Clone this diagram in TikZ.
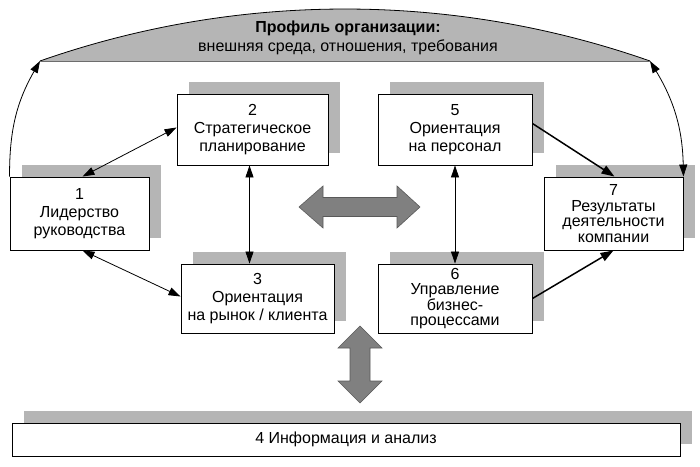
\documentclass[tikz,border=0pt]{standalone}
\usepackage{fontspec}
\setmainfont{Liberation Sans}
\usetikzlibrary{arrows.meta,shadows}
\definecolor{boxgray}{gray}{0.71}
\definecolor{arrowgray}{gray}{0.5}
\tikzstyle{block}=[rectangle, draw, line width=0.9pt, fill=white, inner sep=0pt, align=center, font=\fontsize{16}{18}\selectfont, general shadow={fill=boxgray, shadow xshift=12pt, shadow yshift=12pt}]
\tikzstyle{tight}=[font=\fontsize{16}{15.5}\selectfont]
\tikzstyle{link}=[line width=0.8pt, {Triangle[length=12pt,width=8pt]}-{Triangle[length=12pt,width=8pt]}]
\tikzstyle{flow}=[line width=1.5pt, -{Triangle[length=13pt,width=9pt]}]
\tikzstyle{fat}=[fill=arrowgray, draw=black!65, line width=0.6pt]
\newcommand{\block}{\node[block]}

\begin{document}
\begin{tikzpicture}[x=1pt,y=1pt]
\useasboundingbox (0,0) rectangle (700,466);
% profile of the organisation
\coordinate (arcL) at (40,405);
\coordinate (arcR) at (650,405);
\fill[boxgray] (arcL) arc[start angle=109.35, end angle=70.65, radius=920.5] -- cycle;
\draw[line width=0.8pt] (arcL) arc[start angle=109.35, end angle=70.65, radius=920.5];
\draw[boxgray!60!black, line width=0.6pt] (arcL) -- (arcR);
\node[align=center, font=\fontsize{16}{19}\selectfont] (prof) at (348,428) {\textbf{Профиль организации:}\\внешняя среда, отношения, требования};
% blocks
\block (b1) at (79.5,252.5)[minimum width=139pt, minimum height=73pt]{1\\Лидерство\\руководства};
\block (b2) at (252.5,336.5)[minimum width=151pt, minimum height=71pt]{2\\Стратегическое\\планирование};
\block (b3) at (257.5,167.5)[minimum width=153pt, minimum height=69pt]{3\\Ориентация\\на рынок / клиента};
\block (b5) at (455,336.5)[minimum width=154pt, minimum height=71pt]{5\\Ориентация\\на персонал};
\block (b6) at (455,167.5)[minimum width=154pt, minimum height=69pt, tight]{6\\Управление\\бизнес-\\процессами};
\block (b7) at (613.5,252.5)[minimum width=139pt, minimum height=73pt, tight]{7\\Результаты\\деятельности\\компании};
\block (b4) at (346,26.5)[minimum width=668pt, minimum height=33pt]{4 Информация и анализ};
% connectors
\draw[line width=0.8pt, -{Triangle[length=12pt,width=8pt]}] (b1.north west) to[bend left=15] (arcL);
\draw[link] (arcR) to[bend left=15] (b7.north east);
\draw[link] ([xshift=3pt]b1.north) -- ([yshift=2pt]b2.west);
\draw[link] ([xshift=3pt]b1.south) -- ([yshift=2pt]b3.west);
\draw[link] ([xshift=-3pt]b2.south) -- ([xshift=-3pt]b2.south |- b3.north);
\draw[link] (b5.south) -- (b6.north);
\draw[flow] ([yshift=6pt]b5.east) -- ([xshift=1pt]b7.north);
\draw[flow] (b6.east) -- (b7.south);
% block arrows
\draw[fat] (299,259) -- (323,280) -- (323,268.5) -- (397,268.5) -- (397,280) -- (420,259)
  -- (397,238) -- (397,249.5) -- (323,249.5) -- (323,238) -- cycle;
\draw[fat] (360,140) -- (382,118) -- (370,118) -- (370,85) -- (382,85) -- (360,63)
  -- (338,85) -- (350,85) -- (350,118) -- (338,118) -- cycle;
\end{tikzpicture}
\end{document}
